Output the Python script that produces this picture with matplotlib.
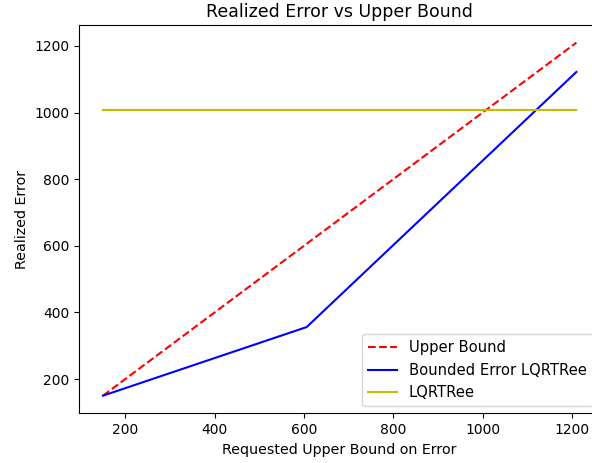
import matplotlib
matplotlib.use("Agg")
import matplotlib.pyplot as plt

# values
requested = [150, 606, 1210]
upper_bound = [150, 606, 1210]
bounded_error = [150, 356, 1122]
lqrtree = [1008, 1008, 1008]


def draw():
    fig = plt.figure(figsize=(5.92, 4.63), dpi=100)
    # axes runs slightly past the right edge, like the cropped original
    ax = fig.add_axes([0.134, 0.1073, 0.8796, 0.8387])
    ax.plot(requested, upper_bound, 'r--', label="Upper Bound")
    ax.plot(requested, bounded_error, 'b', label="Bounded Error LQRTRee")
    ax.plot(requested, lqrtree, 'y', label="LQRTRee")
    ax.set_xlabel("Requested Upper Bound on Error", fontsize=10.3)
    ax.set_ylabel("Realized Error", fontsize=10.3)
    ax.set_title("Realized Error vs Upper Bound", fontsize=12.5)
    ax.legend(loc="lower right", prop={"size": 10.6})
    fig.savefig("out.png", dpi=100)


if __name__ == '__main__':
    draw()
